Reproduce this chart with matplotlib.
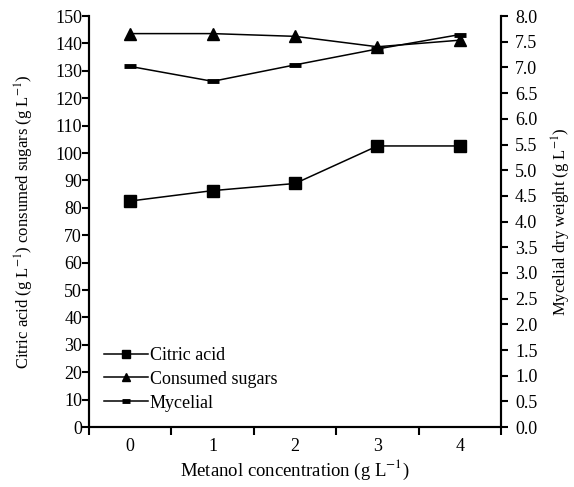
import numpy as np
import matplotlib
matplotlib.use('Agg')
import matplotlib.pyplot as plt
from matplotlib.ticker import MultipleLocator, FormatStrFormatter, FixedLocator

plt.rcParams['font.family'] = ['Liberation Serif', 'DejaVu Serif']
plt.rcParams['mathtext.fontset'] = 'stix'

# metanol concentration levels (g/L)
conc = ['0', '1', '2', '3', '4']
citric_acid = [82.5, 86.3, 88.9, 102.6, 102.6]
consumed_sugars = [143.6, 143.6, 142.6, 138.8, 141.2]
mycelial = [7.02, 6.73, 7.05, 7.36, 7.64]

x = np.arange(len(conc))
fs = 13

fig = plt.figure(figsize=(5.74, 4.87), dpi=100)
ax = fig.add_axes([0.155, 0.123, 0.718, 0.844])
ax2 = ax.twinx()

l1, = ax.plot(x, citric_acid, color='black', lw=1.1, marker='s', ms=8, label='Citric acid')
l2, = ax.plot(x, consumed_sugars, color='black', lw=1.1, marker='^', ms=8, label='Consumed sugars')
l3, = ax2.plot(x, mycelial, color='black', lw=1.1, marker='_', ms=9, mew=3.5, label='Mycelial')

ax.set_xlim(-0.5, len(conc) - 0.5)
ax.set_ylim(0, 150)
ax2.set_ylim(0, 8)

ax.yaxis.set_major_locator(MultipleLocator(10))
ax2.yaxis.set_major_locator(MultipleLocator(0.5))
ax2.yaxis.set_major_formatter(FormatStrFormatter('%.1f'))

# category labels sit between the boundary ticks
ax.set_xticks(x)
ax.set_xticklabels(conc)
ax.tick_params(axis='x', which='major', length=0, pad=8, labelsize=fs)
ax.xaxis.set_minor_locator(FixedLocator(np.arange(-0.5, len(conc), 1.0)))
ax.tick_params(axis='x', which='minor', length=6, width=1.5, direction='out')

ax.tick_params(axis='y', length=5, width=1.5, direction='out', labelsize=fs, pad=0)
ax2.tick_params(axis='y', length=5, width=1.5, direction='out', labelsize=fs, pad=5)

for a in (ax, ax2):
    a.spines['top'].set_visible(False)
    for s in ('left', 'right', 'bottom'):
        a.spines[s].set_linewidth(1.5)

ax.set_xlabel('Metanol concentration (g L$^{-1}$)', fontsize=13.5, labelpad=2)
ax.set_ylabel('Citric acid (g L$^{-1}$) consumed sugars (g L$^{-1}$)', fontsize=12, labelpad=14)
ax2.set_ylabel('Mycelial dry weight (g L$^{-1}$)', fontsize=12, labelpad=9)

ax.legend(handles=[l1, l2, l3], loc='lower left', bbox_to_anchor=(0.02, 0.02),
          frameon=False, fontsize=fs, handlelength=2.4, handletextpad=0.1,
          labelspacing=0.38, borderaxespad=0.0, markerscale=0.7)

fig.savefig('out.png', dpi=100)
